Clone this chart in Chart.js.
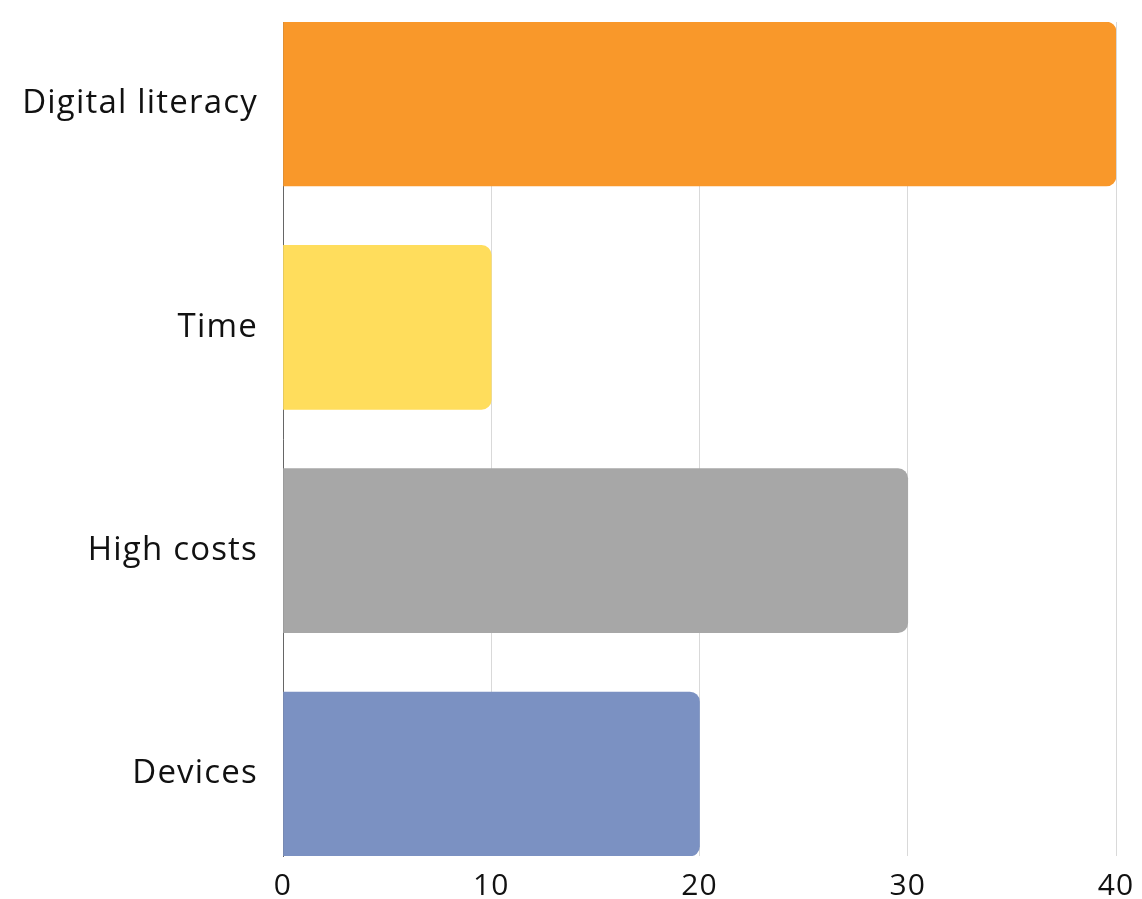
<!DOCTYPE html>
<html>
<head>
<meta charset="utf-8">
<script src="https://cdn.jsdelivr.net/npm/chart.js@4/dist/chart.umd.min.js"></script>
<style>
  html, body { margin: 0; padding: 0; background: #ffffff; }
  #wrap { width: 1142px; height: 899px; }
</style>
</head>
<body>
<div id="wrap"><canvas id="c" width="1142" height="899"></canvas></div>
<script>
const categories = ["Digital literacy", "Time", "High costs", "Devices"];
const values = [40, 10, 30, 20];
const barColors = ["#F9982A", "#FFDD5C", "#A7A7A7", "#7B91C2"];
const xTicks = [0, 10, 20, 30, 40];

const FONT = "'Open Sans', sans-serif";
const pad = 0.3672;

const spacingPlugin = {
  id: 'spacing',
  beforeInit(chart) { chart.ctx.letterSpacing = '1.2px'; },
  beforeUpdate(chart) { chart.ctx.letterSpacing = '1.2px'; },
  beforeDraw(chart) { chart.ctx.letterSpacing = '1.2px'; }
};

new Chart(document.getElementById('c'), {
  type: 'bar',
  plugins: [spacingPlugin],
  data: {
    datasets: [{
      data: values.map((v, i) => ({ x: v, y: i })),
      backgroundColor: barColors,
      borderRadius: 10,
      borderSkipped: 'start',
      barThickness: 164
    }]
  },
  options: {
    indexAxis: 'y',
    responsive: false,
    animation: false,
    devicePixelRatio: 1,
    layout: { padding: { top: 22, right: 26, left: 0, bottom: 0 } },
    plugins: { legend: { display: false }, tooltip: { enabled: false } },
    scales: {
      x: {
        type: 'linear',
        min: 0, max: 40,
        afterBuildTicks: s => { s.ticks = xTicks.map(v => ({ value: v })); },
        afterFit: s => { s.height = 43; s.paddingLeft = 0; s.paddingRight = 0; },
        grid: { color: '#d9d9d9', lineWidth: 1, drawTicks: false },
        border: { display: false },
        ticks: { color: '#111111', font: { family: FONT, size: 30 }, padding: 12, maxRotation: 0 }
      },
      y: {
        type: 'linear',
        reverse: true,
        offset: false,
        bounds: 'data',
        grace: 0,
        min: -pad, max: 3 + pad,
        afterDataLimits: s => { s.min = -pad; s.max = 3 + pad; },
        afterBuildTicks: s => { s.ticks = categories.map((_, i) => ({ value: i })); },
        afterFit: s => { s.width = 283; s.paddingTop = 0; s.paddingBottom = 0; },
        grid: { display: false, drawTicks: false },
        border: { display: true, color: '#666666', width: 1 },
        ticks: {
          color: '#111111', font: { family: FONT, size: 33 }, padding: 25,
          callback: v => categories[v] ?? ''
        }
      }
    }
  }
});
</script>
</body>
</html>
